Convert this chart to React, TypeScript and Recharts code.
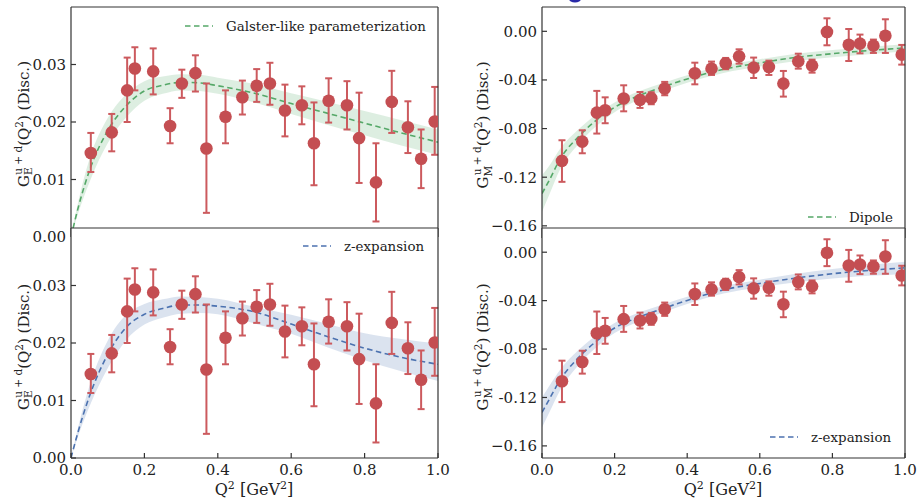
import React from 'react'
import { ComposedChart, XAxis, YAxis, Area, Line, Scatter, ErrorBar } from 'recharts'

const FONT = '"DejaVu Serif", serif'
const RED = '#c44e52'
const GREEN = '#55a868'
const BLUE = '#4c72b0'
const AXIS = '#333'

// lattice points, electric
const qE = [0.054, 0.111, 0.153, 0.174, 0.224, 0.27, 0.302, 0.339, 0.369, 0.421, 0.467, 0.506, 0.542, 0.583, 0.629, 0.662, 0.702, 0.752, 0.785, 0.831, 0.874, 0.918, 0.954, 0.991]
const gE = [0.0146, 0.0182, 0.0255, 0.0293, 0.0288, 0.0193, 0.0267, 0.0285, 0.0154, 0.0209, 0.0243, 0.0263, 0.0267, 0.022, 0.0229, 0.0163, 0.0237, 0.0229, 0.0172, 0.0095, 0.0235, 0.0191, 0.0136, 0.0201]
const gEHi = [0.0181, 0.0214, 0.0312, 0.033, 0.0328, 0.0224, 0.0291, 0.0316, 0.0267, 0.0255, 0.0272, 0.0292, 0.0303, 0.0265, 0.0262, 0.0234, 0.0276, 0.0271, 0.0251, 0.0163, 0.0289, 0.0236, 0.0187, 0.0261]
const gELo = [0.0113, 0.0149, 0.02, 0.0255, 0.0248, 0.0163, 0.0242, 0.0253, 0.0042, 0.0163, 0.0213, 0.0235, 0.023, 0.0175, 0.0196, 0.009, 0.0199, 0.0187, 0.0094, 0.0027, 0.0181, 0.0146, 0.0085, 0.0143]

// lattice points, magnetic
const qM = [0.055, 0.111, 0.151, 0.174, 0.225, 0.27, 0.301, 0.338, 0.421, 0.467, 0.506, 0.543, 0.583, 0.625, 0.665, 0.706, 0.744, 0.785, 0.845, 0.876, 0.913, 0.946, 0.991]
const gM = [-0.1066, -0.0907, -0.0669, -0.0649, -0.0553, -0.0564, -0.0551, -0.0471, -0.0345, -0.0307, -0.0263, -0.0206, -0.0299, -0.0293, -0.043, -0.0247, -0.0282, -0.0005, -0.011, -0.0101, -0.0118, -0.0036, -0.0192]
const gMHi = [-0.0896, -0.0814, -0.049, -0.0543, -0.0444, -0.0499, -0.0501, -0.0416, -0.0258, -0.0249, -0.0219, -0.0148, -0.0216, -0.0241, -0.0326, -0.0184, -0.0233, 0.0107, 0.0019, -0.0027, -0.0068, 0.0099, -0.0112]
const gMLo = [-0.1238, -0.1003, -0.0841, -0.0756, -0.0658, -0.063, -0.06, -0.0526, -0.0436, -0.0359, -0.0312, -0.0266, -0.0384, -0.0359, -0.0537, -0.0307, -0.034, -0.0115, -0.0244, -0.0181, -0.0178, -0.0178, -0.0274]

// fit curves, sampled at curveQ
const curveQ = [0, 0.02, 0.05, 0.1, 0.15, 0.2, 0.25, 0.3, 0.35, 0.4, 0.5, 0.6, 0.7, 0.8, 0.9, 1.0]

const galsterMid = [0, 0.0052, 0.0115, 0.0185, 0.0228, 0.0254, 0.0264, 0.0269, 0.0268, 0.0263, 0.025, 0.0232, 0.0215, 0.0198, 0.0181, 0.0165]
const galsterLo = [0, 0.0042, 0.0095, 0.0163, 0.0208, 0.0237, 0.0249, 0.0255, 0.0254, 0.0249, 0.0234, 0.0214, 0.0195, 0.0177, 0.0159, 0.0143]
const galsterHi = [0, 0.0062, 0.0135, 0.0207, 0.0248, 0.0271, 0.0279, 0.0283, 0.0282, 0.0277, 0.0266, 0.025, 0.0235, 0.0219, 0.0203, 0.0187]

const zEMid = [0, 0.0047, 0.0107, 0.018, 0.0227, 0.025, 0.026, 0.0266, 0.0266, 0.0264, 0.0254, 0.0233, 0.0211, 0.0191, 0.0175, 0.0163]
const zELo = [0, 0.0039, 0.0089, 0.0156, 0.0205, 0.0232, 0.0244, 0.0251, 0.0252, 0.025, 0.0234, 0.0216, 0.0192, 0.017, 0.0151, 0.0134]
const zEHi = [0, 0.0055, 0.0125, 0.0204, 0.0249, 0.0268, 0.0276, 0.0281, 0.028, 0.0277, 0.0263, 0.0249, 0.0233, 0.0217, 0.0207, 0.0199]

const dipoleMid = [-0.1334, -0.1225, -0.105, -0.0868, -0.073, -0.0625, -0.055, -0.0492, -0.044, -0.0392, -0.0312, -0.026, -0.0214, -0.0184, -0.0158, -0.0137]
const dipoleLo = [-0.1484, -0.1345, -0.1135, -0.0928, -0.0778, -0.0665, -0.0586, -0.0526, -0.0472, -0.0423, -0.0342, -0.029, -0.0244, -0.0214, -0.0188, -0.0167]
const dipoleHi = [-0.1184, -0.1105, -0.0965, -0.0808, -0.0682, -0.0585, -0.0514, -0.0458, -0.0408, -0.0361, -0.0282, -0.023, -0.0184, -0.0154, -0.0128, -0.0107]

const zMMid = [-0.1324, -0.1215, -0.1055, -0.0872, -0.0735, -0.0626, -0.0556, -0.05, -0.0448, -0.0398, -0.0311, -0.0258, -0.0213, -0.0178, -0.015, -0.0129]
const zMLo = [-0.1449, -0.1325, -0.114, -0.0934, -0.0785, -0.0668, -0.0593, -0.0534, -0.048, -0.0428, -0.0341, -0.0289, -0.0248, -0.0218, -0.0195, -0.0179]
const zMHi = [-0.1199, -0.1105, -0.097, -0.081, -0.0685, -0.0584, -0.0519, -0.0466, -0.0416, -0.0368, -0.0281, -0.0227, -0.0178, -0.0138, -0.0105, -0.0079]

const xTicks = [0, 0.2, 0.4, 0.6, 0.8, 1.0]
const eTicks = [0, 0.01, 0.02, 0.03]
const mTicks = [-0.16, -0.12, -0.08, -0.04, 0]

const makeCurve = (mid: number[], lo: number[], hi: number[]) =>
  curveQ.map((q, i) => ({ q, mid: mid[i], band: [lo[i], hi[i]] }))

const makePoints = (q: number[], y: number[], lo: number[], hi: number[]) =>
  q.map((x, i) => ({ q: x, y: y[i], err: [y[i] - lo[i], hi[i] - y[i]] }))

const ePoints = makePoints(qE, gE, gELo, gEHi)
const mPoints = makePoints(qM, gM, gMLo, gMHi)

const fmtE = (v: number) => v.toFixed(2)
const fmtM = (v: number) => (v === -0.16 ? '\u22120.16' : v.toFixed(2))

const Dot = (p: any) => <circle cx={p.cx} cy={p.cy} r={6.3} fill={RED} />

interface PanelProps {
  box: number[]
  plot: number[]
  yDomain: number[]
  yTicks: number[]
  yFmt: (v: number) => string
  curve: any[]
  points: any[]
  color: string
  xLabels?: boolean
  cover?: boolean
}

function Panel({ box, plot, yDomain, yTicks, yFmt, curve, points, color, xLabels, cover }: PanelProps) {
  const [L, T, W, H] = box
  const [px, py, pw, ph] = plot
  const tickStyle = { fontSize: 15, fill: '#222', fontFamily: FONT }
  return (
    <div style={{ position: 'absolute', left: L, top: T, width: W, height: H }}>
      {cover && <div style={{ position: 'absolute', left: px, top: py, width: pw, height: ph, background: '#fff' }} />}
      <div style={{ position: 'absolute', left: 0, top: 0 }}>
        <ComposedChart width={W} height={H} data={curve} margin={{ top: 0, right: 0, bottom: 0, left: 0 }}>
          <XAxis dataKey="q" type="number" domain={[0, 1]} ticks={xTicks} allowDataOverflow height={H - py - ph}
            tickSize={-5} tickMargin={11} tick={xLabels ? tickStyle : false} tickFormatter={(v: number) => v.toFixed(1)}
            stroke={AXIS} strokeWidth={1.2} />
          <XAxis xAxisId="top" orientation="top" dataKey="q" type="number" domain={[0, 1]} ticks={xTicks} allowDataOverflow
            height={py} tickSize={-5} tick={false} stroke={AXIS} strokeWidth={1.2} />
          <YAxis type="number" domain={yDomain} ticks={yTicks} allowDataOverflow width={px} tickSize={-5} tickMargin={10}
            tick={tickStyle} tickFormatter={yFmt} stroke={AXIS} strokeWidth={1.2} />
          <YAxis yAxisId="r" orientation="right" type="number" domain={yDomain} ticks={yTicks} allowDataOverflow
            width={W - px - pw} tickSize={-5} tick={false} stroke={AXIS} strokeWidth={1.2} />
          <Area dataKey="band" type="monotone" fill={color} fillOpacity={0.2} stroke="none" isAnimationActive={false} />
          <Line dataKey="mid" type="monotone" stroke={color} strokeWidth={1.6} strokeDasharray="5.5 3.5" dot={false} isAnimationActive={false} />
          <Scatter data={points} dataKey="y" shape={Dot} isAnimationActive={false}>
            <ErrorBar dataKey="err" direction="y" width={3.5} stroke="#cc5a5e" strokeWidth={2} />
          </Scatter>
        </ComposedChart>
      </div>
    </div>
  )
}

function YLabel({ x, y, sub, subW }: { x: number; y: number; sub: string; subW: number }) {
  return (
    <text transform={`translate(${x},${y}) rotate(-90)`} textAnchor="middle" fontFamily={FONT} fontSize={15} fill="#222">
      G<tspan fontSize={10.5} dy={3.5}>{sub}</tspan>
      <tspan fontSize={10.5} dx={-subW} dy={-10.5}>u + d</tspan>
      <tspan dy={7}>(Q</tspan>
      <tspan fontSize={10.5} dy={-6}>2</tspan>
      <tspan dy={6}>) (Disc.)</tspan>
    </text>
  )
}

function XTitle({ x }: { x: number }) {
  return (
    <text x={x} y={495} textAnchor="middle" fontFamily={FONT} fontSize={16} fill="#222">
      Q<tspan fontSize={11} dy={-6}>2</tspan>
      <tspan dy={6}> [GeV</tspan>
      <tspan fontSize={11} dy={-6}>2</tspan>
      <tspan dy={6}>]</tspan>
    </text>
  )
}

function LegendItem({ x, y, color, label }: { x: number; y: number; color: string; label: string }) {
  return (
    <g>
      <line x1={x} x2={x + 28} y1={y} y2={y} stroke={color} strokeWidth={1.6} strokeDasharray="5.5 3.5" />
      <text x={x + 41} y={y + 5} fontFamily={FONT} fontSize={13.4} fill="#222">{label}</text>
    </g>
  )
}

export default function App() {
  return (
    <div style={{ position: 'absolute', left: 0, top: 0, width: 919, height: 504, background: '#fff', overflow: 'hidden' }}>
      <Panel box={[0, 0, 460, 250]} plot={[71, 7, 367, 230]} yDomain={[0, 0.04]} yTicks={eTicks} yFmt={fmtE}
        curve={makeCurve(galsterMid, galsterLo, galsterHi)} points={ePoints} color={GREEN} />
      <Panel box={[460, 0, 459, 250]} plot={[82, 7, 363, 231]} yDomain={[-0.17, 0.02]} yTicks={mTicks} yFmt={fmtM}
        curve={makeCurve(dipoleMid, dipoleLo, dipoleHi)} points={mPoints} color={GREEN} />
      <Panel box={[0, 220, 460, 284]} plot={[71, 8, 367, 230]} yDomain={[0, 0.04]} yTicks={eTicks} yFmt={fmtE}
        curve={makeCurve(zEMid, zELo, zEHi)} points={ePoints} color={BLUE} xLabels cover />
      <Panel box={[460, 220, 459, 284]} plot={[82, 8, 363, 230]} yDomain={[-0.17, 0.02]} yTicks={mTicks} yFmt={fmtM}
        curve={makeCurve(zMMid, zMLo, zMHi)} points={mPoints} color={BLUE} xLabels cover />
      <svg width={919} height={504} style={{ position: 'absolute', left: 0, top: 0, pointerEvents: 'none' }}>
        <ellipse cx={575} cy={-1} rx={6} ry={3.5} fill="#2a2aa8" />
        <YLabel x={28.5} y={124} sub="E" subW={7.5} />
        <YLabel x={28.5} y={347} sub="E" subW={7.5} />
        <YLabel x={488} y={125} sub="M" subW={9.5} />
        <YLabel x={488} y={347} sub="M" subW={9.5} />
        <XTitle x={254} />
        <XTitle x={723} />
        <LegendItem x={185} y={26} color={GREEN} label="Galster-like parameterization" />
        <LegendItem x={303} y={246} color={BLUE} label="z-expansion" />
        <LegendItem x={808} y={217} color={GREEN} label="Dipole" />
        <LegendItem x={770} y={437} color={BLUE} label="z-expansion" />
      </svg>
    </div>
  )
}
